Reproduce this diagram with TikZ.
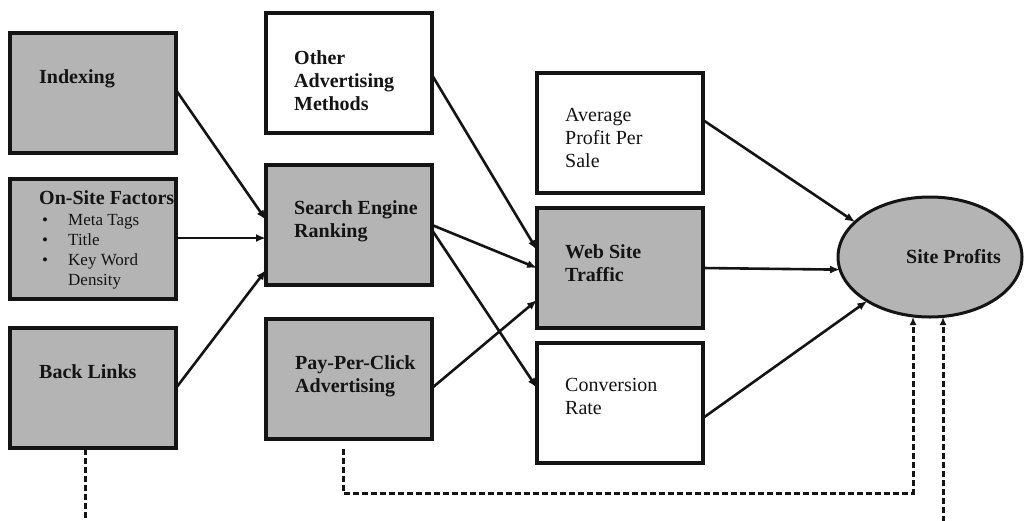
\documentclass[tikz,border=0pt]{standalone}
\usepackage{fontspec}
\setmainfont{Liberation Serif}
\usetikzlibrary{shapes.geometric,arrows.meta,calc}
\definecolor{boxgray}{RGB}{180,180,180}
\definecolor{linecol}{RGB}{20,20,20}
\begin{document}
\begin{tikzpicture}[x=1pt,y=-1pt,
  box/.style={draw=linecol, line width=3.2pt, minimum width=166pt, minimum height=120pt, inner sep=0pt, outer sep=0pt},
  gbox/.style={box, fill=boxgray},
  wbox/.style={box, fill=white},
  lbl/.style={anchor=north west, inner sep=0pt, align=left, text=linecol, font=\fontsize{20}{23}\selectfont},
  blbl/.style={lbl, font=\fontsize{20}{23}\selectfont\bfseries},
  arr/.style={line width=2.6pt, draw=linecol, -{Latex[length=10pt,width=8pt]}},
  darr/.style={line width=3pt, dash pattern=on 6pt off 3pt, draw=linecol}]
\useasboundingbox (0,0) rectangle (1024,520);
% boxes
\node[gbox] (idx)  at (93,93)   {};
\node[gbox] (osf)  at (93,239)  {};
\node[gbox] (bl)   at (93,388)  {};
\node[wbox] (oam)  at (349,73)  {};
\node[gbox] (ser)  at (349,225) {};
\node[gbox] (ppc)  at (349,379) {};
\node[wbox] (apps) at (620,133) {};
\node[gbox] (wst)  at (620,268) {};
\node[wbox] (conv) at (620,403) {};
\node[ellipse, draw=linecol, line width=3pt, fill=boxgray, minimum width=184pt, minimum height=120pt, inner sep=0pt, outer sep=0pt] (sp) at (930,257) {};
% labels
\node[blbl] (tidx) at (39,69) {Indexing};
\node[blbl] (tosf) at (39,190) {On-Site Factors};
\node[lbl, font=\fontsize{17}{20}\selectfont] (tbul) at (42,214) {\makebox[26pt][l]{\textbullet}Meta Tags\\\makebox[26pt][l]{\textbullet}Title\\\makebox[26pt][l]{\textbullet}Key Word\\\makebox[26pt][l]{}Density};
\node[blbl] (tbl) at (39,364) {Back Links};
\node[blbl] (toam) at (294,50) {Other\\Advertising\\Methods};
\node[blbl] (tser) at (294,200) {Search Engine\\Ranking};
\node[blbl] (tppc) at (295,355) {Pay-Per-Click\\Advertising};
\node[lbl] (tapps) at (565,108) {Average\\Profit Per\\Sale};
\node[blbl] (twst) at (565,244) {Web Site\\Traffic};
\node[lbl] (tconv) at (565,378) {Conversion\\Rate};
\node[blbl, anchor=base west] (tsp) at (906,263) {Site Profits};
% arrows
\draw[arr] ([yshift=3pt]idx.east) -- ([yshift=5pt]ser.west);
\draw[arr] ([yshift=1pt]osf.east) -- ([yshift=-13pt]ser.west);
\draw[arr] (bl.east) -- ([yshift=-45pt]ser.west);
\draw[arr] ([yshift=-2pt]oam.east) -- ([yshift=18pt]wst.west);
\draw[arr] (ser.east) -- (wst.west);
\draw[arr] ([yshift=-5pt]ser.east) -- ([yshift=15pt]conv.west);
\draw[arr] ([yshift=-9pt]ppc.east) -- ([yshift=-32pt]wst.west);
\draw[arr] ([yshift=13pt]apps.east) -- (sp.155);
\draw[arr] (wst.east) -- (sp.188);
\draw[arr] ([yshift=-15pt]conv.east) -- (sp.215);
% dashed connectors
\coordinate (bb) at (85,522);
\coordinate (pp) at (913,493);
\coordinate (sb) at (943,522);
\draw[darr] ([xshift=-8pt,yshift=-1pt]bl.south) -- (bb);
\draw[darr, -{Latex[length=8pt,width=7pt]}] ([xshift=-6pt,yshift=-10pt]ppc.south) |- (pp) -- (pp |- sp.south);
\draw[darr, -{Latex[length=8pt,width=7pt]}] (sb) -- (sb |- sp.south);
\end{tikzpicture}
\end{document}
